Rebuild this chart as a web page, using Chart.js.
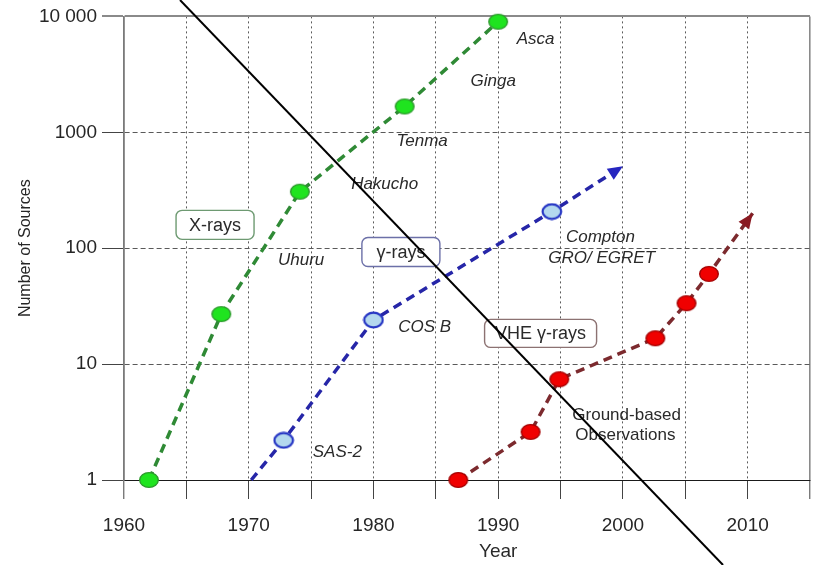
<!DOCTYPE html>
<html>
<head>
<meta charset="utf-8">
<script src="https://cdn.jsdelivr.net/npm/chart.js@4/dist/chart.umd.min.js"></script>
<style>
  html, body { margin: 0; padding: 0; background: #fff; overflow: hidden; }
  #wrap { width: 825px; height: 565px; position: relative; }
</style>
</head>
<body>
<div id="wrap"><canvas id="c" width="825" height="565"></canvas></div>
<script>
// Number of known sources per discovery epoch
const xrayYears   = [1962, 1967.8, 1974.1, 1982.5, 1990];
const xrayCounts  = [1, 27, 307, 1670, 9000];

const gammaYears  = [1970.2, 1972.8, 1980, 1994.3, 2000];
const gammaCounts = [1, 2.2, 24, 207, 510];

const vheYears    = [1986.8, 1992.6, 1994.9, 2002.6, 2005.1, 2006.9, 2010.4];
const vheCounts   = [1, 2.6, 7.4, 16.7, 33.5, 60, 200];

// Axis ticks
const yearTicks  = [1960, 1965, 1970, 1975, 1980, 1985, 1990, 1995, 2000, 2005, 2010, 2015];
const countTicks = [1, 10, 100, 1000, 10000];

// Mission names placed next to the curves (year, count anchors)
const missionNames  = ['Asca', 'Ginga', 'Tenma', 'Hakucho', 'Uhuru', 'SAS-2', 'COS B', 'Compton', 'GRO/ EGRET'];
const missionYears  = [1993.0, 1989.6, 1983.9, 1980.9, 1974.2, 1977.1, 1984.1, 1998.2, 1998.3];
const missionCounts = [6310, 2750, 838, 358, 78, 1.74, 20.7, 125, 82.6];

const groundLines  = ['Ground-based', 'Observations'];
const groundYears  = [2000.3, 2000.2];
const groundCounts = [3.62, 2.44];

// Boxed band labels
const bandNames  = ['X-rays', '\u03b3-rays', 'VHE \u03b3-rays'];
const bandYears  = [1967.3, 1982.2, 1993.4];
const bandCounts = [159, 92.6, 18.4];

const FONT = "'Liberation Sans', Arial, Helvetica, sans-serif";

function ellipseMarker(fill, stroke, lw) {
  const c = document.createElement('canvas');
  c.width = 22; c.height = 18;
  const g = c.getContext('2d');
  g.beginPath();
  g.ellipse(11, 9, 9.3, 7.4, 0, 0, Math.PI * 2);
  g.fillStyle = fill;
  g.fill();
  g.lineWidth = lw;
  g.strokeStyle = stroke;
  g.stroke();
  return c;
}

const greenMarker = ellipseMarker('#1fe41f', '#2e9a2e', 1.4);
const blueMarker  = ellipseMarker('#b4d8ee', '#2636c4', 2.2);
const redMarker   = ellipseMarker('#f00000', '#a40000', 1.4);

const pts = (xs, ys) => xs.map((x, i) => ({ x: x, y: ys[i] }));

const bandStyles = [
  { w: 78, h: 29, border: '#6e9a72' },
  { w: 78, h: 29, border: '#6c70a8' },
  { w: 112, h: 28, border: '#8c7272' }
];

function roundRect(ctx, x, y, w, h, r) {
  ctx.beginPath();
  ctx.moveTo(x + r, y);
  ctx.lineTo(x + w - r, y);
  ctx.arcTo(x + w, y, x + w, y + r, r);
  ctx.lineTo(x + w, y + h - r);
  ctx.arcTo(x + w, y + h, x + w - r, y + h, r);
  ctx.lineTo(x + r, y + h);
  ctx.arcTo(x, y + h, x, y + h - r, r);
  ctx.lineTo(x, y + r);
  ctx.arcTo(x, y, x + r, y, r);
  ctx.closePath();
}

// Arrowheads at the end of the open-ended trends
const arrowPlugin = {
  id: 'arrows',
  afterDatasetsDraw(chart) {
    const ctx = chart.ctx;
    chart.data.datasets.forEach((ds, di) => {
      if (!ds.arrowColor) return;
      const meta = chart.getDatasetMeta(di);
      const n = meta.data.length;
      const a = meta.data[n - 2], b = meta.data[n - 1];
      const ang = Math.atan2(b.y - a.y, b.x - a.x);
      const len = 15, half = 6.5;
      ctx.save();
      ctx.translate(b.x, b.y);
      ctx.rotate(ang);
      ctx.beginPath();
      ctx.moveTo(0, 0);
      ctx.lineTo(-len, -half);
      ctx.lineTo(-len, half);
      ctx.closePath();
      ctx.fillStyle = ds.arrowColor;
      ctx.fill();
      ctx.restore();
    });
  }
};

// Mission names, band boxes and axis caption
const textPlugin = {
  id: 'texts',
  afterDatasetsDraw(chart) {
    const ctx = chart.ctx;
    const xs = chart.scales.x, ys = chart.scales.y;
    ctx.save();
    ctx.textAlign = 'center';
    ctx.textBaseline = 'middle';
    ctx.fillStyle = '#2a2a2a';

    ctx.font = 'italic 17px ' + FONT;
    missionNames.forEach((t, i) => {
      ctx.fillText(t, xs.getPixelForValue(missionYears[i]), ys.getPixelForValue(missionCounts[i]));
    });

    ctx.font = '17px ' + FONT;
    groundLines.forEach((t, i) => {
      ctx.fillText(t, xs.getPixelForValue(groundYears[i]), ys.getPixelForValue(groundCounts[i]));
    });

    ctx.font = '18px ' + FONT;
    bandNames.forEach((t, i) => {
      const cx = xs.getPixelForValue(bandYears[i]);
      const cy = ys.getPixelForValue(bandCounts[i]);
      const st = bandStyles[i];
      roundRect(ctx, cx - st.w / 2, cy - st.h / 2, st.w, st.h, 6);
      ctx.fillStyle = '#ffffff';
      ctx.fill();
      ctx.lineWidth = 1.4;
      ctx.strokeStyle = st.border;
      ctx.stroke();
      ctx.fillStyle = '#2a2a2a';
      ctx.fillText(t, cx, cy + 1);
    });

    ctx.font = '19px ' + FONT;
    ctx.fillText('Year', xs.getPixelForValue(1990), 552);
    ctx.restore();
  },
  afterDraw(chart) {
    // diagonal strike line across the figure
    const ctx = chart.ctx;
    const W = chart.width, H = chart.height;
    ctx.save();
    ctx.beginPath();
    ctx.moveTo(W * 0.2182, 0);
    ctx.lineTo(W * 0.8764, H);
    ctx.lineWidth = 2;
    ctx.strokeStyle = '#000';
    ctx.stroke();
    ctx.restore();
  }
};

const edgeX = v => v === 1960 || v === 2015;
const edgeY = v => v === 1 || v === 10000;

new Chart(document.getElementById('c'), {
  type: 'line',
  data: {
    datasets: [
      {
        label: 'X-rays',
        data: pts(xrayYears, xrayCounts),
        borderColor: '#2f8a35',
        borderWidth: 3.5,
        borderDash: [9, 6],
        pointStyle: greenMarker,
        pointRadius: 8,
        clip: false,
        order: 1
      },
      {
        label: '\u03b3-rays',
        data: pts(gammaYears, gammaCounts),
        borderColor: '#2626a8',
        borderWidth: 3.5,
        borderDash: [9, 6],
        pointStyle: blueMarker,
        pointRadius: gammaYears.map((_, i) => (i === 0 || i === gammaYears.length - 1) ? 0 : 8),
        arrowColor: '#2626c0',
        clip: false,
        order: 2
      },
      {
        label: 'VHE \u03b3-rays',
        data: pts(vheYears, vheCounts),
        borderColor: '#7c2a2e',
        borderWidth: 3.5,
        borderDash: [9, 6],
        pointStyle: redMarker,
        pointRadius: vheYears.map((_, i) => i === vheYears.length - 1 ? 0 : 8),
        arrowColor: '#8a1a22',
        clip: false,
        order: 3
      }
    ]
  },
  options: {
    responsive: false,
    animation: false,
    devicePixelRatio: 1,
    layout: { padding: { top: 15, right: 13, left: 0, bottom: 0 } },
    plugins: { legend: { display: false }, tooltip: { enabled: false } },
    elements: { line: { tension: 0, fill: false } },
    scales: {
      x: {
        type: 'linear',
        min: 1960,
        max: 2015,
        afterBuildTicks: s => { s.ticks = yearTicks.map(v => ({ value: v })); },
        afterFit: s => { s.height = 85; },
        ticks: {
          autoSkip: false,
          maxRotation: 0,
          padding: 15,
          color: '#262626',
          font: { family: FONT, size: 19 },
          callback: v => (v % 10 === 0 && v < 2015) ? String(v) : ''
        },
        grid: {
          color: c => (c.tick && edgeX(c.tick.value)) ? '#8a8a8a' : '#5a5a5a',
          lineWidth: c => (c.tick && edgeX(c.tick.value)) ? 1.6 : 1,
          tickLength: 19,
          tickColor: '#444',
          tickWidth: 1,
          tickBorderDash: []
        },
        border: {
          display: true,
          color: '#1a1a1a',
          width: 1,
          dash: c => (c.tick && edgeX(c.tick.value)) ? [] : [2, 3]
        }
      },
      y: {
        type: 'logarithmic',
        min: 1,
        max: 10000,
        afterBuildTicks: s => { s.ticks = countTicks.map(v => ({ value: v })); },
        afterFit: s => { s.width = 124; },
        ticks: {
          padding: 5,
          color: '#262626',
          font: { family: FONT, size: 19 },
          callback: v => v === 10000 ? '10 000' : String(v)
        },
        grid: {
          color: c => (c.tick && c.tick.value === 10000) ? '#8a8a8a' : (c.tick && c.tick.value === 1 ? '#1a1a1a' : '#5a5a5a'),
          lineWidth: c => (c.tick && c.tick.value === 10000) ? 2 : 1,
          tickLength: 22,
          tickColor: c => (c.tick && c.tick.value === 10000) ? '#8a8a8a' : '#444',
          tickWidth: c => (c.tick && c.tick.value === 10000) ? 2 : 1,
          tickBorderDash: []
        },
        border: {
          display: true,
          color: '#7a7a7a',
          width: 1.6,
          dash: c => (c.tick && edgeY(c.tick.value)) ? [] : [5, 3]
        },
        title: {
          display: true,
          text: 'Number of Sources',
          color: '#262626',
          font: { family: FONT, size: 16 },
          padding: { top: 16, bottom: 0 }
        }
      }
    }
  },
  plugins: [arrowPlugin, textPlugin]
});
</script>
</body>
</html>
